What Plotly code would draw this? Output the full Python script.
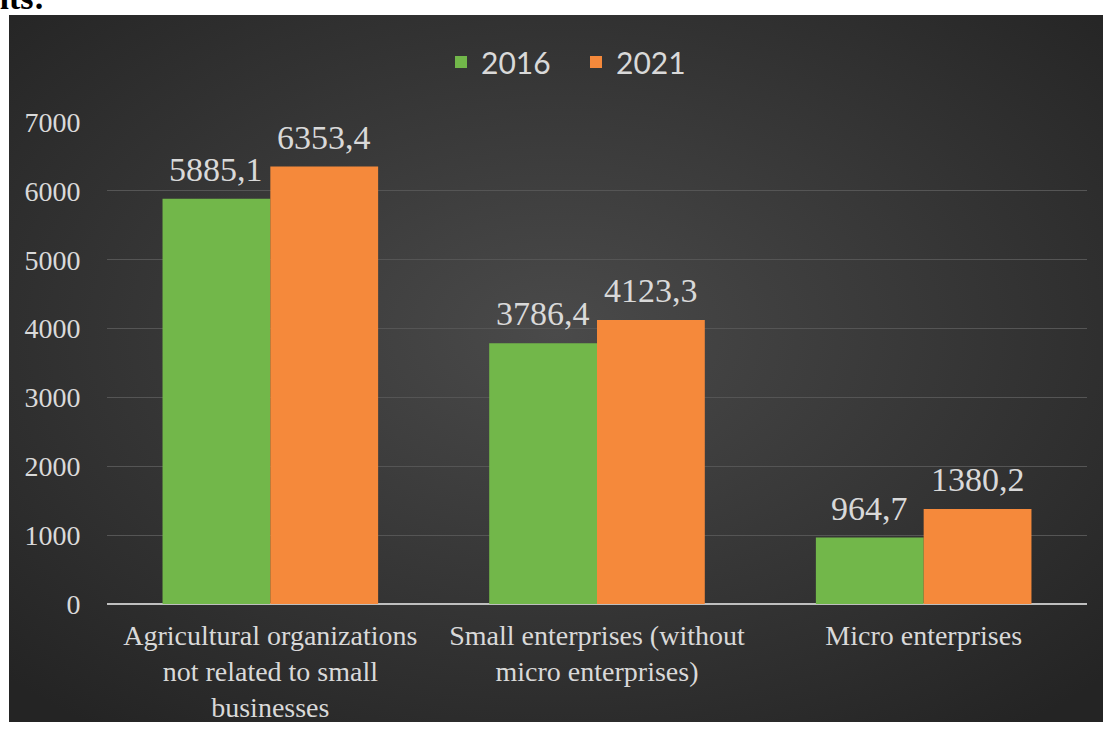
import plotly.graph_objects as go
import urllib.parse

categories = ["Agricultural organizations<br>not related to small<br>businesses",
              "Small enterprises (without<br>micro enterprises)",
              "Micro enterprises"]
values_2016 = [5885.1, 3786.4, 964.7]
values_2021 = [6353.4, 4123.3, 1380.2]
series_names = ["2016", "2021"]
y_ticks = [0, 1000, 2000, 3000, 4000, 5000, 6000, 7000]

def fmt(v):
    return f"{v:.1f}".replace(".", ",")

W, H = 1103, 731
L, R, T, B = 107, 16, 122, 127
pw, ph = W - L - R, H - T - B

def px_x(p):
    return (p - L) / pw

def px_y(p):
    return (H - B - p) / ph

svg = ('<svg xmlns="http://www.w3.org/2000/svg" width="1094" height="707" viewBox="0 0 1094 707" preserveAspectRatio="none">'
       '<defs><radialGradient id="g" cx="50%" cy="45%" r="70%">'
       '<stop offset="0%" stop-color="#4a4a4a"/><stop offset="100%" stop-color="#242424"/>'
       '</radialGradient></defs><rect width="1094" height="707" fill="url(#g)"/></svg>')
svg_uri = "data:image/svg+xml;charset=utf-8," + urllib.parse.quote(svg)

text_col = "#d9d9d9"
serif = "Liberation Serif"
bargap = 0.34
group_px = pw / len(categories)
half_bar_px = group_px * (1 - bargap) / 4

fig = go.Figure()
fig.add_trace(go.Bar(
    x=categories, y=values_2016, name=series_names[0],
    marker=dict(color="#72b74a", line=dict(width=0))))
fig.add_trace(go.Bar(
    x=categories, y=values_2021, name=series_names[1],
    marker=dict(color="#f5893b", line=dict(width=0))))

annotations = []
for series, sign in ((values_2016, -1), (values_2021, 1)):
    for cat, v in zip(categories, series):
        annotations.append(dict(
            text=fmt(v), x=cat, y=v, xref="x", yref="y",
            xanchor="center", yanchor="bottom", xshift=sign * half_bar_px, yshift=9,
            showarrow=False, font=dict(family=serif, size=34, color=text_col)))

annotations.append(dict(text="<b>nts:</b>", xref="paper", yref="paper",
                        x=px_x(-12), y=px_y(18), xanchor="left", yanchor="bottom",
                        showarrow=False, font=dict(family=serif, size=34, color="black")))

fig.update_layout(
    width=W, height=H,
    margin=dict(l=L, r=R, t=T, b=B, pad=0, autoexpand=False),
    paper_bgcolor="white", plot_bgcolor="rgba(0,0,0,0)",
    barmode="group", bargap=bargap, bargroupgap=0,
    showlegend=True,
    legend=dict(orientation="h", x=px_x(576), xanchor="center", y=px_y(62), yanchor="middle",
                font=dict(family="Lato", size=30, color=text_col),
                bgcolor="rgba(0,0,0,0)", itemsizing="constant", entrywidth=90),
    xaxis=dict(showgrid=False, showline=False, zeroline=False, automargin=False,
               tickfont=dict(family=serif, size=28, color=text_col),
               ticks="outside", ticklen=6, tickcolor="rgba(0,0,0,0)"),
    yaxis=dict(range=[0, 7000], tickvals=y_ticks, ticktext=[str(t) for t in y_ticks],
               automargin=False,
               showgrid=True, gridcolor="#555555", gridwidth=1,
               zeroline=True, zerolinecolor="#bfbfbf", zerolinewidth=2,
               showline=False,
               tickfont=dict(family=serif, size=28, color=text_col),
               ticks="outside", ticklen=20, tickcolor="rgba(0,0,0,0)"),
    images=[dict(source=svg_uri, xref="paper", yref="paper",
                 x=px_x(9), y=px_y(15), sizex=px_x(1103) - px_x(9), sizey=px_y(15) - px_y(722),
                 xanchor="left", yanchor="top", sizing="stretch", layer="below")],
    annotations=annotations,
)

fig.write_html("out.html")
